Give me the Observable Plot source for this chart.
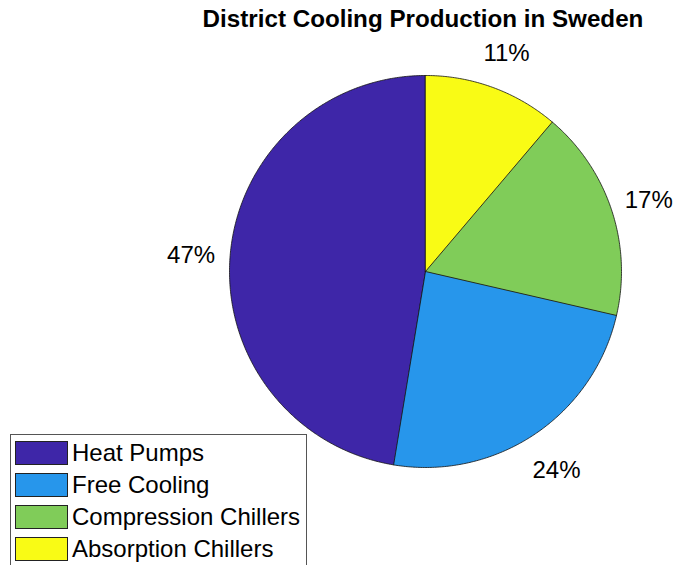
<!DOCTYPE html>
<html>
<head>
<meta charset="utf-8">
<script src="https://cdn.jsdelivr.net/npm/d3@7"></script>
<script src="https://cdn.jsdelivr.net/npm/@observablehq/plot@0.6"></script>
<style>
  html, body { margin: 0; padding: 0; background: #fff; }
  #wrap { position: relative; width: 677px; height: 565px; overflow: hidden; font-family: "Liberation Sans", Arial, sans-serif; }
  #title { position: absolute; left: 0; width: 846px; top: 5px; text-align: center; font-weight: bold; font-size: 24.2px; color: #000; white-space: nowrap; }
  #legend { position: absolute; left: 10px; top: 434px; width: 297px; height: 160px; border: 1px solid #555; background: #fff; box-sizing: border-box; }
  .row { position: absolute; left: 4px; height: 24px; display: flex; align-items: center; }
  .sw { width: 51px; height: 22px; border: 1px solid #222; margin-right: 4px; }
  .lbl { font-size: 24px; color: #000; line-height: 24px; white-space: nowrap; }
</style>
</head>
<body>
<div id="wrap">
  <div id="chart"></div>
  <div id="title">District Cooling Production in Sweden</div>
  <div id="legend"></div>
</div>
<script>
const categories = ["Heat Pumps", "Free Cooling", "Compression Chillers", "Absorption Chillers"];
const values = [47.4, 24.0, 17.4, 11.2];
const colors = ["#3E26A8", "#2796EB", "#80CC59", "#F9FB15"];

// Slices go counter-clockwise starting at 12 o'clock
const total = d3.sum(values);
let acc = 0;
const slices = categories.map((c, i) => {
  const a0 = acc / total * 2 * Math.PI;
  acc += values[i];
  const a1 = acc / total * 2 * Math.PI;
  return {key: c, a0, a1, value: values[i]};
});

// angle measured counter-clockwise from the top
const px = (a, r) => -Math.sin(a) * r;
const py = (a, r) => Math.cos(a) * r;

const pts = [];
for (const s of slices) {
  pts.push({key: s.key, x: 0, y: 0});
  const n = Math.max(2, Math.ceil((s.a1 - s.a0) / (Math.PI / 360)));
  for (let k = 0; k <= n; k++) {
    const a = s.a0 + (s.a1 - s.a0) * k / n;
    pts.push({key: s.key, x: px(a, 1), y: py(a, 1)});
  }
}

const labels = slices.map(s => {
  const m = (s.a0 + s.a1) / 2;
  return {x: px(m, 1.2), y: py(m, 1.2), text: Math.round(s.value / total * 100) + "%"};
});

const chart = Plot.plot({
  width: 677,
  height: 565,
  margin: 0,
  style: {fontFamily: "Liberation Sans, Arial, sans-serif", background: "#fff"},
  x: {domain: [-1, 1], range: [229, 621], axis: null},
  y: {domain: [-1, 1], range: [467, 75], axis: null},
  color: {domain: categories, range: colors},
  marks: [
    Plot.line(pts, {x: "x", y: "y", z: "key", fill: "key", stroke: "#111", strokeWidth: 0.8, curve: "linear-closed", strokeLinejoin: "round"}),
    Plot.text(labels, {x: "x", y: "y", text: "text", fontSize: 24, dy: 3, fill: "#000"})
  ]
});
document.getElementById("chart").appendChild(chart);

const leg = document.getElementById("legend");
categories.forEach((c, i) => {
  const row = document.createElement("div");
  row.className = "row";
  row.style.top = (6 + i * 32) + "px";
  const sw = document.createElement("div");
  sw.className = "sw";
  sw.style.background = colors[i];
  const t = document.createElement("span");
  t.className = "lbl";
  t.textContent = c;
  row.appendChild(sw);
  row.appendChild(t);
  leg.appendChild(row);
});
</script>
</body>
</html>
